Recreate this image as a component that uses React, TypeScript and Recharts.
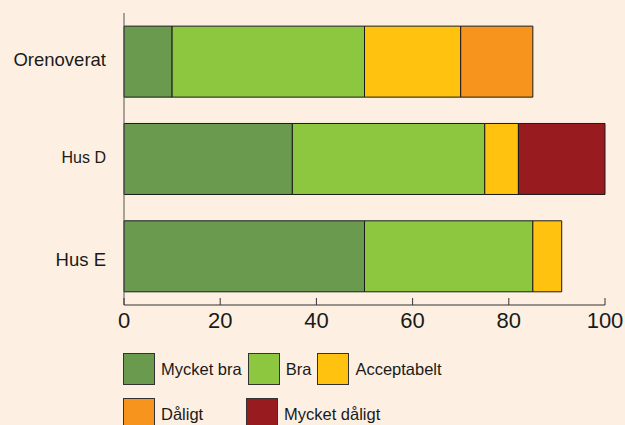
import React from 'react';
import { BarChart, Bar, XAxis, YAxis } from 'recharts';

const categories = ['Orenoverat', 'Hus D', 'Hus E'];
const mycketBra = [10, 35, 50];
const bra = [40, 40, 35];
const acceptabelt = [20, 7, 6];
const daligt = [15, 0, 0];
const mycketDaligt = [0, 18, 0];
const xTicks = [0, 20, 40, 60, 80, 100];

const series = [
  { key: 'mycketBra', name: 'Mycket bra', color: '#6a9a4e', values: mycketBra },
  { key: 'bra', name: 'Bra', color: '#8dc63f', values: bra },
  { key: 'acceptabelt', name: 'Acceptabelt', color: '#ffc20f', values: acceptabelt },
  { key: 'daligt', name: 'Dåligt', color: '#f7941e', values: daligt },
  { key: 'mycketDaligt', name: 'Mycket dåligt', color: '#981b1f', values: mycketDaligt },
];

const data = categories.map((name, i) => {
  const row: Record<string, any> = { name };
  series.forEach(s => { row[s.key] = s.values[i]; });
  return row;
});

// label looks differ a bit per row in the original
const labelStyle: Record<string, { size: number; dy: number }> = {
  'Orenoverat': { size: 18.5, dy: 4 },
  'Hus D': { size: 16, dy: 4.3 },
  'Hus E': { size: 18.5, dy: 9.7 },
};

const FONT = 'Arial, "Liberation Sans", sans-serif';

const YTick = (props: any) => {
  const { x, y, payload } = props;
  const st = labelStyle[payload.value] || { size: 18, dy: 6 };
  return (
    <text x={x} y={y + st.dy} textAnchor="end" fontSize={st.size} fill="#1a1a1a" fontFamily={FONT}>
      {payload.value}
    </text>
  );
};

const XTick = (props: any) => {
  const { x, y, payload } = props;
  return (
    <g>
      <line x1={x} x2={x} y1={y - 7} y2={y} stroke="#333" strokeWidth={1} />
      <text x={x} y={y + 22.7} textAnchor="middle" fontSize={22} fill="#1a1a1a" fontFamily={FONT}>
        {payload.value}
      </text>
    </g>
  );
};

const legendRows = [
  ['mycketBra', 'bra', 'acceptabelt'],
  ['daligt', 'mycketDaligt'],
];

const LegendItem = ({ k, minW }: { k: string; minW?: number }) => {
  const s = series.find(x => x.key === k)!;
  return (
    <div style={{ display: 'flex', alignItems: 'center', gap: 6 }}>
      <div style={{ width: 30, height: 30, background: s.color, border: '1px solid #333' }} />
      <span style={{ fontSize: 16.5, color: '#1a1a1a', minWidth: minW, whiteSpace: 'nowrap' }}>{s.name}</span>
    </div>
  );
};

export default function App() {
  return (
    <div style={{ position: 'absolute', left: 0, top: 0, width: 625, height: 425, background: '#fdf0e2', fontFamily: FONT, overflow: 'hidden' }}>
      <BarChart
        width={625}
        height={425}
        data={data}
        layout="vertical"
        margin={{ top: 13, right: 20, left: 0, bottom: 90 }}
        barCategoryGap="13.5%"
      >
        <XAxis
          type="number"
          domain={[0, 100]}
          ticks={xTicks}
          height={30}
          tickSize={0}
          tickMargin={0}
          tickLine={false}
          axisLine={{ stroke: '#333' }}
          tick={<XTick />}
          interval={0}
        />
        <YAxis
          type="category"
          dataKey="name"
          width={124}
          tickSize={0}
          tickMargin={18}
          tickLine={false}
          axisLine={{ stroke: '#555' }}
          tick={<YTick />}
        />
        {series.map(s => (
          <Bar
            key={s.key}
            dataKey={s.key}
            name={s.name}
            stackId="a"
            fill={s.color}
            stroke="#1a1a1a"
            strokeWidth={1}
            isAnimationActive={false}
          />
        ))}
      </BarChart>
      <div style={{ position: 'absolute', left: 123, top: 353 }}>
        {legendRows.map((row, ri) => (
          <div key={ri} style={{ display: 'flex', gap: 6, marginBottom: 13 }}>
            {row.map((k, i) => (
              <LegendItem key={k} k={k} minW={ri === 1 && i === 0 ? 79 : undefined} />
            ))}
          </div>
        ))}
      </div>
    </div>
  );
}
